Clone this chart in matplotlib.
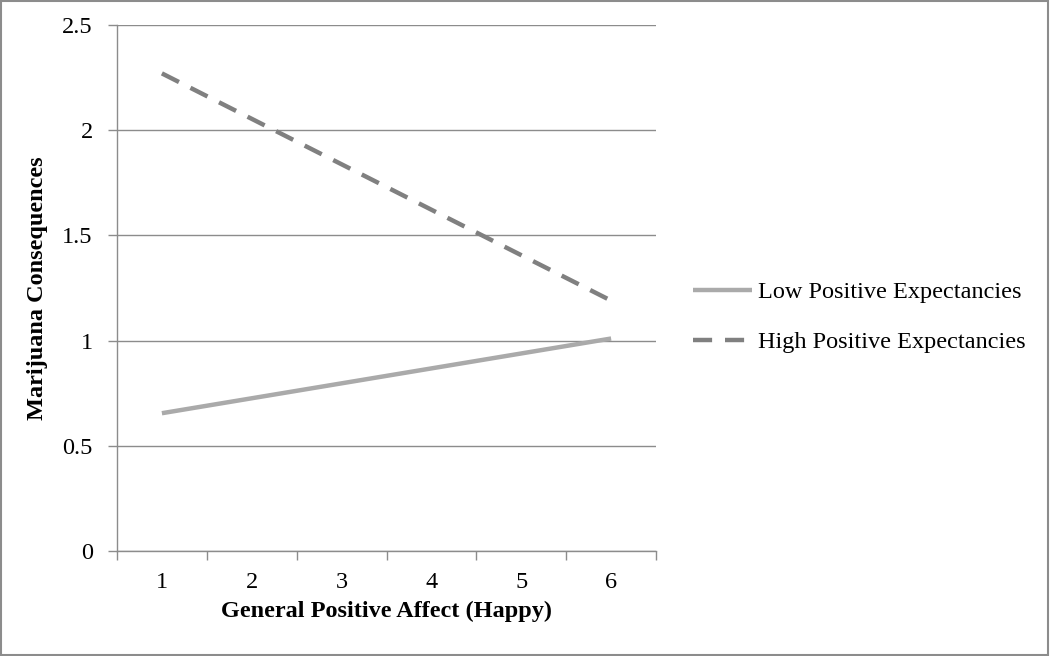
import matplotlib
matplotlib.use("Agg")
import matplotlib.pyplot as plt
from matplotlib.patches import Rectangle

# --- data ---
affect = [1, 2, 3, 4, 5, 6]
low_expect = [0.655, 0.726, 0.797, 0.868, 0.939, 1.01]
high_expect = [2.27, 2.054, 1.838, 1.622, 1.406, 1.19]
y_ticks = [0, 0.5, 1, 1.5, 2, 2.5]
y_labels = ["0", "0.5", "1", "1.5", "2", "2.5"]

plt.rcParams["font.family"] = ["Liberation Serif", "DejaVu Serif"]
grid_gray = "#8c8c8c"
fs = 17.5

fig = plt.figure(figsize=(10.5, 6.56), dpi=100)
ax = fig.add_axes([0.1114, 0.160, 0.5134, 0.8019])

ax.plot(affect, low_expect, color="#aaaaaa", lw=3.2, solid_capstyle="butt",
        label="Low Positive Expectancies")
ax.plot(affect, high_expect, color="#808080", lw=3.2, dashes=(4.3, 2.9),
        dash_capstyle="butt", label="High Positive Expectancies")

ax.set_xlim(0.5, 6.5)
ax.set_ylim(0, 2.5)
ax.set_yticks(y_ticks)
ax.set_yticklabels(y_labels)
ax.set_xticks(affect)
ax.set_xticklabels([str(a) for a in affect])
ax.set_xticks([a - 0.5 for a in affect] + [6.5], minor=True)
ax.tick_params(axis="x", which="major", length=0, pad=15, labelsize=fs)
ax.tick_params(axis="x", which="minor", length=6.5, width=1, color=grid_gray, direction="out")
ax.tick_params(axis="y", length=6.5, width=1, color=grid_gray, pad=11, labelsize=fs)

ax.grid(axis="y", color=grid_gray, lw=1)
ax.set_axisbelow(True)
for s in ["top", "right"]:
    ax.spines[s].set_visible(False)
for s in ["left", "bottom"]:
    ax.spines[s].set_color(grid_gray)
    ax.spines[s].set_linewidth(1)

ax.set_xlabel("General Positive Affect (Happy)", fontsize=fs, fontweight="bold", labelpad=6)
ax.set_ylabel("Marijuana Consequences", fontsize=fs, fontweight="bold", labelpad=10)

ax.legend(loc="center left", bbox_to_anchor=(1.0686, 0.444), frameon=False, fontsize=fs,
          borderaxespad=0, borderpad=0, handlelength=2.43, labelspacing=1.15,
          handletextpad=0.25)

fig.patches.append(Rectangle((0.001, 0.002), 0.997, 0.996, transform=fig.transFigure,
                             fill=False, edgecolor="#8c8c8c", lw=1.5))

fig.savefig("out.png", dpi=100)
